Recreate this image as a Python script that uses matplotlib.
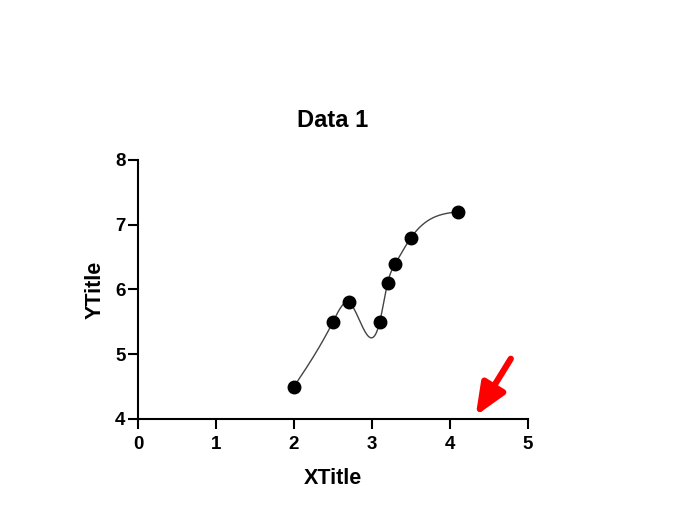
import numpy as np
import matplotlib
matplotlib.use("Agg")
import matplotlib.pyplot as plt

plt.rcParams['font.family'] = ['Liberation Sans', 'DejaVu Sans']

# data
x_vals = [2.0, 2.5, 2.7, 3.1, 3.2, 3.3, 3.5, 4.1]
y_vals = [4.5, 5.5, 5.8, 5.5, 6.1, 6.4, 6.8, 7.2]
x_ticks = [0, 1, 2, 3, 4, 5]
y_ticks = [4, 5, 6, 7, 8]
title = "Data 1"
x_title = "XTitle"
y_title = "YTitle"
arrow_tail = (4.78, 4.93)
arrow_head = (4.33, 4.05)


def natural_spline(x, y, n=400):
    # plain natural cubic spline through the points
    x = np.asarray(x, float)
    y = np.asarray(y, float)
    k = len(x)
    h = np.diff(x)
    A = np.zeros((k, k))
    b = np.zeros(k)
    A[0, 0] = A[-1, -1] = 1
    for i in range(1, k - 1):
        A[i, i - 1] = h[i - 1]
        A[i, i] = 2 * (h[i - 1] + h[i])
        A[i, i + 1] = h[i]
        b[i] = 6 * ((y[i + 1] - y[i]) / h[i] - (y[i] - y[i - 1]) / h[i - 1])
    M = np.linalg.solve(A, b)
    xs = np.linspace(x[0], x[-1], n)
    idx = np.clip(np.searchsorted(x, xs) - 1, 0, k - 2)
    x0, x1 = x[idx], x[idx + 1]
    hh = x1 - x0
    t0 = x1 - xs
    t1 = xs - x0
    ys = (M[idx] * t0**3 + M[idx + 1] * t1**3) / (6 * hh) \
        + (y[idx] / hh - M[idx] * hh / 6) * t0 \
        + (y[idx + 1] / hh - M[idx + 1] * hh / 6) * t1
    return xs, ys


fig = plt.figure(figsize=(6.8, 5.21), dpi=100)
ax = fig.add_axes([0.2029, 0.1958, 0.5735, 0.4971])

sx, sy = natural_spline(x_vals, y_vals)
ax.plot(sx, sy, color='#444444', lw=1.0, zorder=2)
ax.plot(x_vals, y_vals, 'o', color='black', markersize=9, zorder=3)

ax.set_xlim(0, 5)
ax.set_ylim(4, 8)
ax.set_xticks(x_ticks)
ax.set_yticks(y_ticks)
for s in ['top', 'right']:
    ax.spines[s].set_visible(False)
for s in ['left', 'bottom']:
    ax.spines[s].set_linewidth(1.5)
ax.tick_params(width=1.5, length=7, labelsize=13.5)
ax.tick_params(axis='x', pad=5)
ax.tick_params(axis='y', pad=2)
for lab in ax.get_xticklabels() + ax.get_yticklabels():
    lab.set_fontweight('bold')

ax.set_xlabel(x_title, fontsize=15.5, fontweight='bold', labelpad=11)
ax.set_ylabel(y_title, fontsize=15.5, fontweight='bold', labelpad=7)
ax.set_title(title, fontsize=17, fontweight='bold', pad=24)

ax.annotate('', xy=arrow_head, xytext=arrow_tail,
            arrowprops=dict(arrowstyle='-|>,head_length=1.9,head_width=0.8',
                            color='red', lw=4.5, shrinkA=0, shrinkB=0),
            annotation_clip=False)

fig.savefig('out.png', dpi=100)
